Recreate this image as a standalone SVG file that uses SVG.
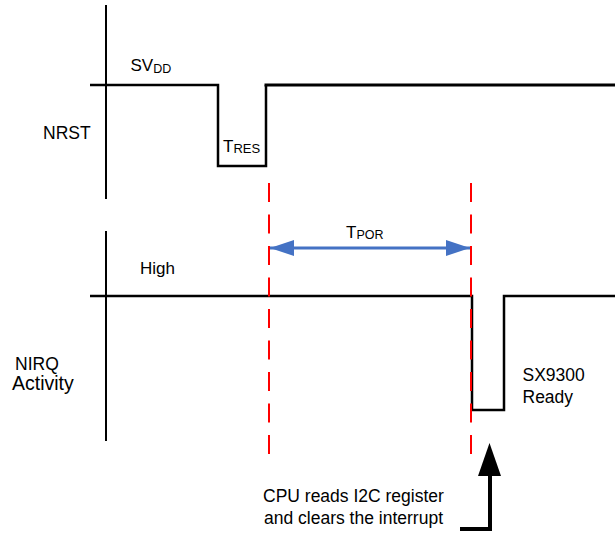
<svg xmlns="http://www.w3.org/2000/svg" width="615" height="535" viewBox="0 0 615 535">
<style>
.t{font-family:"Liberation Sans",Arial,sans-serif;fill:#000;font-size:17.5px}
.sig{fill:none;stroke:#000;stroke-linejoin:miter;stroke-linecap:butt}
.dash{fill:none;stroke:#FF0000;stroke-width:2;stroke-dasharray:19 12.5}
</style>
<defs>
<marker id="bh" viewBox="0 0 24 16" refX="24" refY="8" markerWidth="24" markerHeight="16" markerUnits="userSpaceOnUse" orient="auto-start-reverse">
<path d="M0,0 L24,8 L0,16 Z" fill="#4472C4"/>
</marker>
</defs>
<g id="axes">
<line x1="106" y1="5" x2="106" y2="199" stroke="#000" stroke-width="2"/>
<line x1="106" y1="231" x2="106" y2="441" stroke="#000" stroke-width="2"/>
</g>
<g id="nrst-signal">
<path class="sig" stroke-width="2.5" d="M90,85 H218 V166 H266 V85"/>
<path class="sig" stroke-width="3" d="M264.5,85 H615"/>
</g>
<g id="nirq-signal">
<path class="sig" stroke-width="2.5" d="M90,296 H472 V410 H504 V296 H615"/>
</g>
<g id="connectors">
<line class="dash" x1="269" y1="183" x2="269" y2="458"/>
<line class="dash" x1="471" y1="183" x2="471" y2="458"/>
<line x1="270" y1="248" x2="470" y2="248" stroke="#4472C4" stroke-width="3" marker-start="url(#bh)" marker-end="url(#bh)"/>
<path d="M460,529 H490 V475" fill="none" stroke="#000" stroke-width="4"/>
<path d="M478,476 L489.5,443 L501,476 Z" fill="#000"/>
</g>
<g id="labels">
<text class="t" x="43" y="139">NRST</text>
<text class="t" x="130.5" y="70.5" style="font-size:17px">SV<tspan dy="2" style="font-size:12.5px">DD</tspan></text>
<text class="t" x="223" y="152" style="font-size:17px">T<tspan dy="0.5" style="font-size:13px">RES</tspan></text>
<text class="t" x="346" y="237.5" style="font-size:17px">T<tspan dy="1.5" style="font-size:12.5px">POR</tspan></text>
<text class="t" x="140" y="273.5" style="font-size:17px">High</text>
<text class="t" x="15" y="370" style="font-size:17.5px">NIRQ</text>
<text class="t" x="12" y="390" style="font-size:19.5px">Activity</text>
<text class="t" x="522.5" y="381">SX9300</text>
<text class="t" x="522.5" y="402.5">Ready</text>
<text class="t" x="263" y="502">CPU reads I2C register</text>
<text class="t" x="264" y="524">and clears the interrupt</text>
</g>
</svg>
